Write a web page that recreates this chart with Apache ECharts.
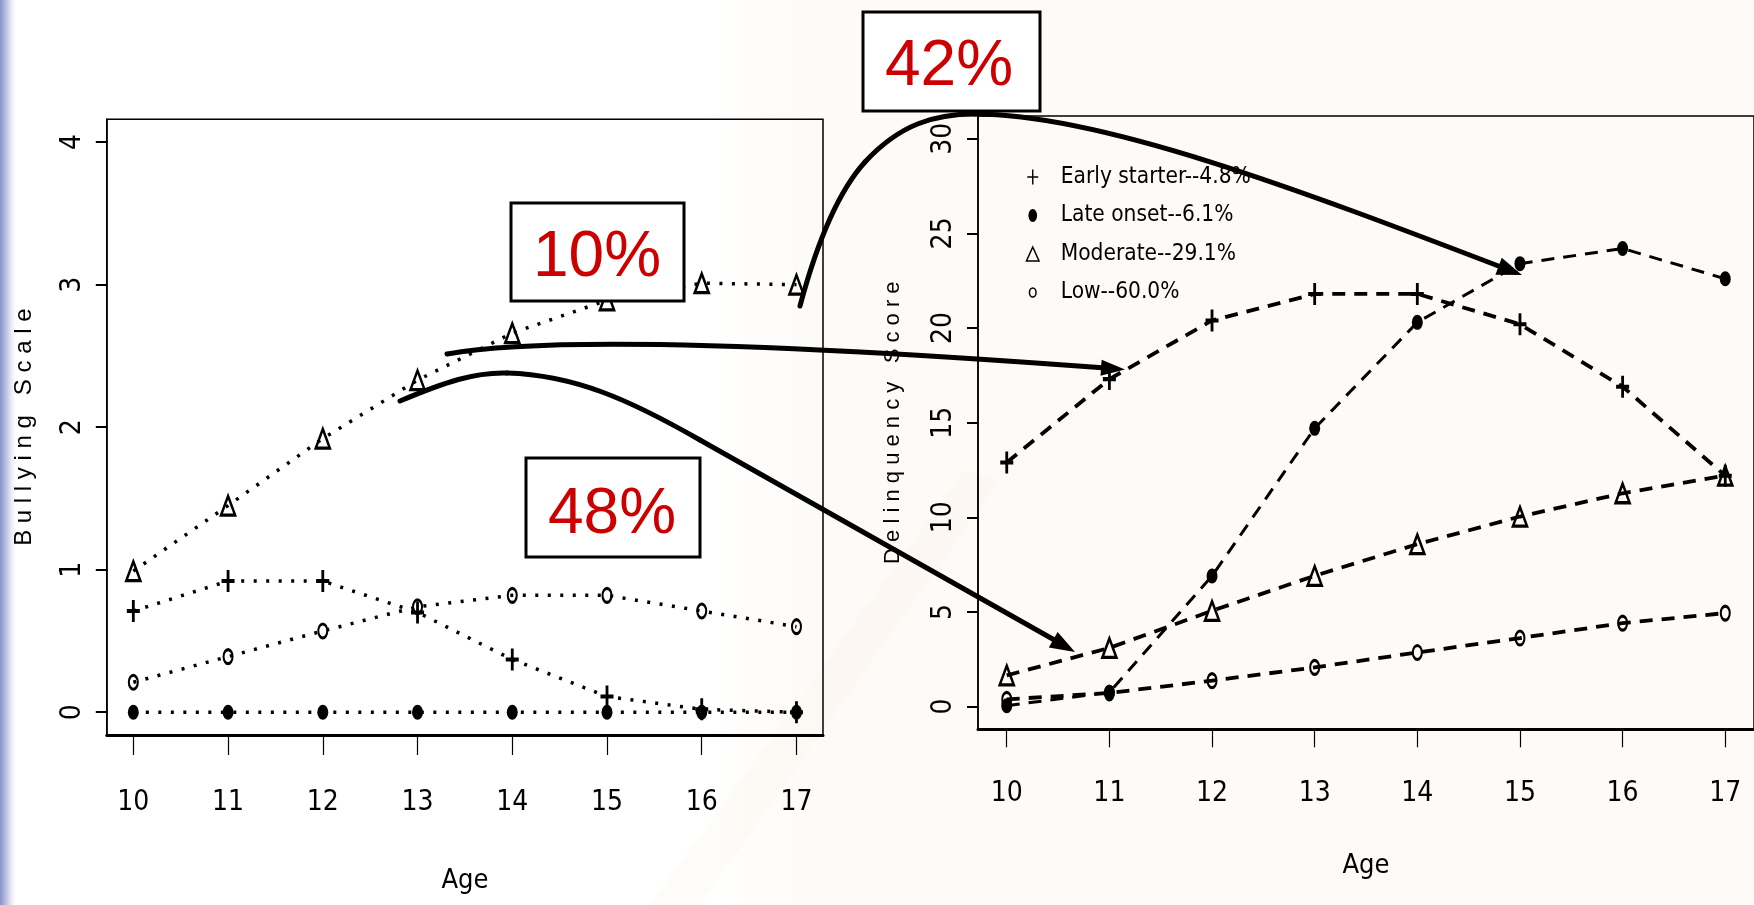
<!DOCTYPE html>
<html>
<head>
<meta charset="utf-8">
<script src="https://cdn.jsdelivr.net/npm/echarts@6/dist/echarts.min.js"></script>
<style>
html,body{margin:0;padding:0;background:#ffffff;}
#c{width:1754px;height:905px;}
</style>
</head>
<body>
<div id="c"></div>
<script>
// ---------------- data ----------------
const ages = [10, 11, 12, 13, 14, 15, 16, 17];
const groupNames = ['Early starter--4.8%', 'Late onset--6.1%', 'Moderate--29.1%', 'Low--60.0%'];

const bullyEarly    = [0.71, 0.92, 0.92, 0.70, 0.37, 0.11, 0.02, 0.00];
const bullyLate     = [0.00, 0.00, 0.00, 0.00, 0.00, 0.00, 0.00, 0.00];
const bullyModerate = [0.99, 1.45, 1.92, 2.33, 2.66, 2.89, 3.01, 3.00];
const bullyLow      = [0.21, 0.39, 0.57, 0.74, 0.82, 0.82, 0.71, 0.60];

const delqEarly    = [12.9, 17.3, 20.4, 21.8, 21.8, 20.2, 16.9, 12.2];
const delqLate     = [0.05, 0.75, 6.9, 14.7, 20.3, 23.4, 24.2, 22.6];
const delqModerate = [1.65, 3.1, 5.06, 6.91, 8.58, 10.04, 11.27, 12.2];
const delqLow      = [0.38, 0.72, 1.37, 2.07, 2.86, 3.62, 4.41, 4.94];

const ageTicks   = [10, 11, 12, 13, 14, 15, 16, 17];
const bullyTicks = [0, 1, 2, 3, 4];
const delqTicks  = [0, 5, 10, 15, 20, 25, 30];

const xTitle = 'Age';
const bullyTitle = 'B u l l y i n g   S c a l e';
const delqTitle = 'D e l i n q u e n c y   S c o r e';
const pctLabels = ['10%', '48%', '42%'];

// ---------------- styles ----------------
const NARROW = '"Liberation Sans Narrow", "Arial Narrow", "DejaVu Sans Condensed", "Liberation Sans", sans-serif';
const SANS = '"Liberation Sans", Arial, sans-serif';
const PLUS = 'path://M4.7,0H7.3V4.9H12V7.1H7.3V12H4.7V7.1H0V4.9H4.7Z';
const LEG_PLUS = 'path://M0,0M14,16M6.3,0.5H7.7V7.3H12.5V8.7H7.7V15.5H6.3V8.7H1.5V7.3H6.3Z';
const LEG_DOT = 'path://M0,0M14,16M7,1.5C9.375,1.5 11.3,4.41 11.3,8C11.3,11.59 9.375,14.5 7,14.5C4.625,14.5 2.7,11.59 2.7,8C2.7,4.41 4.625,1.5 7,1.5Z';
const LEG_TRI = 'path://M0,0M14,16M7,1L13.3,15H0.7Z';
const LEG_CIRC = 'path://M0,0M14,16M7,3.5C8.82,3.5 10.3,5.51 10.3,8C10.3,10.49 8.82,12.5 7,12.5C5.18,12.5 3.7,10.49 3.7,8C3.7,5.51 5.18,3.5 7,3.5Z';

const pairs = arr => ages.map((a, i) => [a, arr[i]]);

const markerDefs = [
  {symbol: PLUS, symbolSize: [13, 22], itemStyle: {color: '#000', borderWidth: 0}},
  {symbol: 'circle', symbolSize: [11, 15], itemStyle: {color: '#000', borderWidth: 0}},
  {symbol: 'triangle', symbolSize: [14, 19], itemStyle: {color: 'rgba(0,0,0,0)', borderColor: '#000', borderWidth: 2.8}},
  {symbol: 'circle', symbolSize: [9, 14], itemStyle: {color: 'rgba(0,0,0,0)', borderColor: '#000', borderWidth: 2.5}}
];

function makeSeries(values, gi, axisIdx, dash, width) {
  const m = markerDefs[gi];
  return {
    type: 'line', name: groupNames[gi],
    xAxisIndex: axisIdx, yAxisIndex: axisIdx,
    data: pairs(values),
    symbol: m.symbol, symbolSize: m.symbolSize,
    itemStyle: m.itemStyle,
    lineStyle: {color: '#000', width: width, type: dash},
    showSymbol: true, silent: true
  };
}

function xAxisDef(gridIndex, margin, nameGap, lineW, tickLen) {
  return {
    type: 'value', gridIndex: gridIndex, min: 9.72, max: 17.28,
    name: xTitle, nameLocation: 'middle', nameGap: nameGap,
    nameTextStyle: {fontFamily: NARROW, fontSize: 27, color: '#000'},
    axisLine: {show: true, onZero: false, lineStyle: {color: '#000', width: lineW}},
    axisTick: {show: true, length: tickLen, customValues: ageTicks, lineStyle: {color: '#000', width: 1.2}},
    axisLabel: {show: true, customValues: ageTicks, margin: margin, fontFamily: NARROW, fontSize: 28, color: '#000',
                formatter: v => String(v)},
    splitLine: {show: false}
  };
}

function yAxisDef(gridIndex, min, max, ticks, name, nameGap, nameSize) {
  return {
    type: 'value', gridIndex: gridIndex, min: min, max: max,
    name: name, nameLocation: 'middle', nameGap: nameGap,
    nameTextStyle: {fontFamily: SANS, fontSize: nameSize, color: '#000'},
    axisLine: {show: true, onZero: false, lineStyle: {color: '#000', width: 1.5}},
    axisTick: {show: true, length: 11, customValues: ticks, lineStyle: {color: '#000', width: 2}},
    axisLabel: {show: true, customValues: ticks, rotate: 90, margin: 20, fontFamily: NARROW, fontSize: 28, color: '#000',
                formatter: v => String(v)},
    splitLine: {show: false}
  };
}

// annotation helpers (slide overlay)
function head(tip, dir, len, hw) {
  const l = Math.hypot(dir[0], dir[1]);
  const u = [dir[0] / l, dir[1] / l];
  const n = [-u[1], u[0]];
  const b = [tip[0] - len * u[0], tip[1] - len * u[1]];
  return {type: 'polygon', z: 101, silent: true,
    shape: {points: [tip, [b[0] + hw * n[0], b[1] + hw * n[1]], [b[0] - hw * n[0], b[1] - hw * n[1]]]},
    style: {fill: '#000'}};
}
const arrowStyle = {stroke: '#000', lineWidth: 5, fill: null, lineCap: 'round'};
function bez(p) {
  return {type: 'bezierCurve', z: 100, silent: true,
    shape: {x1: p[0], y1: p[1], cpx1: p[2], cpy1: p[3], cpx2: p[4], cpy2: p[5], x2: p[6], y2: p[7]},
    style: arrowStyle};
}
function seg(p) {
  return {type: 'line', z: 100, silent: true,
    shape: {x1: p[0], y1: p[1], x2: p[2], y2: p[3]}, style: arrowStyle};
}
function pctBox(x, y, w, h, label, cx, cy) {
  return [
    {type: 'rect', z: 99, silent: true, shape: {x: x, y: y, width: w, height: h},
     style: {fill: '#ffffff', stroke: '#000', lineWidth: 3}},
    {type: 'text', z: 102, silent: true, x: cx, y: cy,
     style: {text: label, fill: '#cc0000', fontSize: 64, fontFamily: SANS, align: 'center', verticalAlign: 'middle'}}
  ];
}

const chart = echarts.init(document.getElementById('c'), null, {renderer: 'canvas'});

const option = {
  animation: false,
  backgroundColor: '#ffffff',
  grid: [
    {left: 106.8, top: 119.3, width: 716.2, height: 615.7, show: true, borderColor: '#000', borderWidth: 1.5, backgroundColor: 'transparent', containLabel: false},
    {left: 978, top: 116, width: 777, height: 613.3, show: true, borderColor: '#000', borderWidth: 1.5, backgroundColor: 'transparent', containLabel: false}
  ],
  xAxis: [
    xAxisDef(0, 54, 132, 3, 20),
    xAxisDef(1, 50, 123, 3, 18)
  ],
  yAxis: [
    yAxisDef(0, -0.16, 4.16, bullyTicks, bullyTitle, 70, 24),
    yAxisDef(1, -1.2, 31.2, delqTicks, delqTitle, 74, 22)
  ],
  legend: {
    orient: 'vertical', left: 1020, top: 157,
    itemWidth: 14, itemHeight: 16, itemGap: 8.5,
    symbolKeepAspect: true, selectedMode: false,
    textStyle: {fontFamily: NARROW, fontSize: 22.5, color: '#000', lineHeight: 30, padding: [0, 0, 0, 16]},
    data: [
      {name: groupNames[0], icon: LEG_PLUS, itemStyle: {color: '#000', borderWidth: 0}},
      {name: groupNames[1], icon: LEG_DOT, itemStyle: {color: '#000', borderWidth: 0}},
      {name: groupNames[2], icon: LEG_TRI, itemStyle: {color: 'rgba(0,0,0,0)', borderColor: '#000', borderWidth: 1.5}},
      {name: groupNames[3], icon: LEG_CIRC, itemStyle: {color: 'rgba(0,0,0,0)', borderColor: '#000', borderWidth: 1.5}}
    ]
  },
  series: [
    makeSeries(bullyEarly, 0, 0, [3, 9.5], 3.5),
    makeSeries(bullyLate, 1, 0, [3, 9.5], 3.5),
    makeSeries(bullyModerate, 2, 0, [3, 9.5], 3.5),
    makeSeries(bullyLow, 3, 0, [3, 9.5], 3.5),
    makeSeries(delqEarly, 0, 1, [13, 9], 3.8),
    makeSeries(delqLate, 1, 1, [13, 9], 3),
    makeSeries(delqModerate, 2, 1, [13, 9], 3.8),
    makeSeries(delqLow, 3, 1, [13, 9], 3.8)
  ],
  graphic: [
    // slide background
    {type: 'rect', z: -10, silent: true, shape: {x: 0, y: 0, width: 18, height: 905},
     style: {fill: new echarts.graphic.LinearGradient(0, 0, 1, 0, [
       {offset: 0, color: '#8a93c8'}, {offset: 0.4, color: '#c3c8e6'}, {offset: 1, color: 'rgba(255,255,255,0)'}])}},
    {type: 'rect', z: -10, silent: true, shape: {x: 700, y: 0, width: 1054, height: 905},
     style: {fill: new echarts.graphic.LinearGradient(0, 0, 1, 0, [
       {offset: 0, color: 'rgba(246,234,220,0)'}, {offset: 0.12, color: 'rgba(246,234,220,0.22)'},
       {offset: 1, color: 'rgba(246,234,220,0.22)'}])}},
    {type: 'polygon', z: -9, silent: true,
     shape: {points: [[650, 905], [700, 905], [1000, 480], [965, 470]]},
     style: {fill: 'rgba(246,234,220,0.16)'}},
    // percentage boxes
    ...pctBox(511, 203, 173, 98, pctLabels[0], 597, 258),
    ...pctBox(526, 458, 174, 99, pctLabels[1], 612, 515),
    ...pctBox(863, 12, 177, 99, pctLabels[2], 949, 67),
    // arrows
    bez([447, 354, 540, 337, 760, 342, 1106, 368]),
    head([1125, 369.5], [348, 25], 24, 8),
    bez([400, 401, 445, 382, 475, 372, 507, 373]),
    bez([507, 373, 575, 375, 630, 400, 700, 440]),
    seg([700, 440, 1058, 642]),
    head([1075, 652], [358, 202], 25, 9),
    bez([800, 306, 815, 250, 835, 195, 865, 162]),
    bez([865, 162, 900, 124, 935, 114, 975, 114]),
    bez([975, 114, 1100, 114, 1300, 190, 1505, 268.5]),
    head([1522, 275], [208, 78], 25, 9)
  ]
};

chart.setOption(option);
</script>
</body>
</html>
